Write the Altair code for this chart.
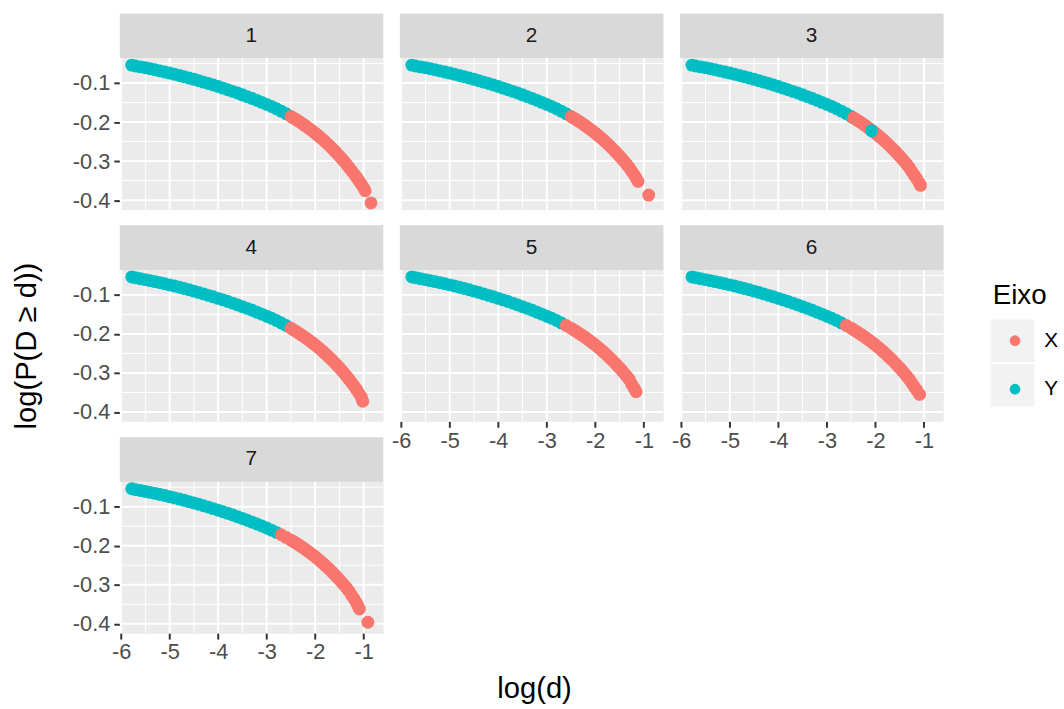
import altair as alt
import pandas as pd

FONTE = "Liberation Sans"
COR_X = "#F8766D"
COR_Y = "#00BFC4"
FUNDO = "#EBEBEB"
FAIXA_COR = "#D9D9D9"

LARGURA = 266
ALTURA = 198
FAIXA = 45  # strip height on top of each panel

X_DOM = [-6.027, -0.602]
Y_DOM = [-0.424, -0.036]

# body of the curve log(P(D >= d)) x log(d), common to all panels
X_CORPO = [-5.78, -5.7, -5.6, -5.5, -5.4, -5.3, -5.2, -5.1, -5.0,
           -4.9, -4.8, -4.7, -4.6, -4.5, -4.4, -4.3, -4.2, -4.1, -4.0,
           -3.9, -3.8, -3.7, -3.6, -3.5, -3.4, -3.3, -3.2, -3.1, -3.0,
           -2.9, -2.8, -2.7, -2.6, -2.5, -2.45, -2.4, -2.35, -2.3, -2.25,
           -2.2, -2.15, -2.1, -2.05, -2.0, -1.95, -1.9, -1.85, -1.8, -1.75,
           -1.7, -1.65, -1.6, -1.55, -1.5, -1.45, -1.4, -1.35, -1.3]
Y_CORPO = [-0.0540, -0.0562, -0.0585, -0.0609, -0.0634, -0.0660, -0.0687, -0.0715, -0.0744,
           -0.0774, -0.0805, -0.0837, -0.0870, -0.0904, -0.0939, -0.0975, -0.1012, -0.1050, -0.1089,
           -0.1129, -0.1170, -0.1212, -0.1256, -0.1301, -0.1347, -0.1395, -0.1444, -0.1494, -0.1546,
           -0.1600, -0.1658, -0.1720, -0.1786, -0.1856, -0.1893, -0.1931, -0.1970, -0.2011, -0.2053,
           -0.2096, -0.2141, -0.2187, -0.2235, -0.2284, -0.2335, -0.2387, -0.2441, -0.2497, -0.2555,
           -0.2614, -0.2676, -0.2739, -0.2805, -0.2872, -0.2942, -0.3014, -0.3089, -0.3166]

# steep end of the curve, panel by panel
X_CAUDA = {
    1: [-1.25, -1.2, -1.15, -1.1, -1.05, -1.0, -0.97, -0.85],
    2: [-1.25, -1.2, -1.16, -1.12, -0.90],
    3: [-1.25, -1.2, -1.15, -1.1, -1.07],
    4: [-1.25, -1.2, -1.15, -1.1, -1.05, -1.02],
    5: [-1.25, -1.2, -1.16],
    6: [-1.25, -1.2, -1.15, -1.09],
    7: [-1.25, -1.2, -1.15, -1.12, -1.09, -0.915],
}
Y_CAUDA = {
    1: [-0.325, -0.333, -0.341, -0.350, -0.359, -0.369, -0.376, -0.407],
    2: [-0.326, -0.335, -0.343, -0.352, -0.387],
    3: [-0.327, -0.336, -0.345, -0.355, -0.362],
    4: [-0.325, -0.333, -0.342, -0.352, -0.362, -0.3725],
    5: [-0.329, -0.339, -0.348],
    6: [-0.326, -0.335, -0.344, -0.355],
    7: [-0.327, -0.336, -0.346, -0.354, -0.362, -0.396],
}

# first log(d) classified as axis X in each panel
CORTE = {1: -2.55, 2: -2.53, 3: -2.47, 4: -2.58, 5: -2.68, 6: -2.6, 7: -2.79}

# isolated points drawn on top
AVULSOS = {3: ([-2.08], [-0.222], ["Y"])}

GRADE_X_MAIOR = [-6, -5, -4, -3, -2, -1]
GRADE_X_MENOR = [-5.5, -4.5, -3.5, -2.5, -1.5]
GRADE_Y_MAIOR = [-0.4, -0.3, -0.2, -0.1]
GRADE_Y_MENOR = [-0.35, -0.25, -0.15, -0.05]

EIXOS = ["X", "Y"]

legenda = alt.Legend(
    title="Eixo", orient="none", legendX=882, legendY=271,
    symbolType="circle", symbolSize=115, symbolStrokeWidth=0,
    symbolOffset=12, labelOffset=19, rowPadding=27, titlePadding=21,
    titleFont=FONTE, titleFontSize=28, titleFontWeight="normal", titleColor="black",
    labelFont=FONTE, labelFontSize=21, labelColor="black",
)


def dados_painel(n):
    xs = X_CORPO + X_CAUDA[n]
    ys = Y_CORPO + Y_CAUDA[n]
    eixo = ["Y" if x < CORTE[n] else "X" for x in xs]
    if n in AVULSOS:
        ax, ay, ae = AVULSOS[n]
        xs = xs + ax
        ys = ys + ay
        eixo = eixo + ae
    return pd.DataFrame({"logd": xs, "logp": ys, "eixo": eixo})


def painel(n):
    mostra_x = n in (5, 6, 7)
    mostra_y = n in (1, 4, 7)

    esc_x = alt.Scale(domain=X_DOM, nice=False, zero=False)
    esc_y = alt.Scale(domain=Y_DOM, nice=False, zero=False, range=[ALTURA, FAIXA])

    comum = dict(grid=False, domain=False, ticks=True, tickColor="#333333",
                 tickWidth=2, tickSize=6, labelFont=FONTE, labelFontSize=22,
                 labelColor="#4D4D4D", labelOverlap=False,
                 labelExpr="toString(datum.value)")
    eixo_x = alt.Axis(values=GRADE_X_MAIOR, labelPadding=3, labelFlush=False,
                      title=None, **comum) if mostra_x else None
    if mostra_y:
        if n == 4:
            eixo_y = alt.Axis(values=GRADE_Y_MAIOR, labelPadding=4,
                              title="log(P(D \u2265 d))", titleFont=FONTE,
                              titleFontSize=29.5, titleFontWeight="normal",
                              titleColor="black", titlePadding=31, **comum)
        else:
            eixo_y = alt.Axis(values=GRADE_Y_MAIOR, labelPadding=4, title=None, **comum)
    else:
        eixo_y = None

    def cx(campo):
        return alt.X(campo, type="quantitative", scale=esc_x, axis=eixo_x)

    def cy(campo):
        return alt.Y(campo, type="quantitative", scale=esc_y, axis=eixo_y)

    def verticais(valores, largura):
        df = pd.DataFrame({"g": valores, "y0": Y_DOM[0], "y1": Y_DOM[1]})
        return alt.Chart(df).mark_rule(color="white", strokeWidth=largura).encode(
            x=cx("g"), y=cy("y0"), y2="y1")

    def horizontais(valores, largura):
        df = pd.DataFrame({"g": valores, "x0": X_DOM[0], "x1": X_DOM[1]})
        return alt.Chart(df).mark_rule(color="white", strokeWidth=largura).encode(
            y=cy("g"), x=cx("x0"), x2="x1")

    pontos = alt.Chart(dados_painel(n)).mark_circle(size=170, opacity=1).encode(
        x=cx("logd"), y=cy("logp"),
        color=alt.Color("eixo:N", scale=alt.Scale(domain=EIXOS, range=[COR_X, COR_Y]),
                        legend=legenda),
    )

    rotulo = pd.DataFrame({"painel": [str(n)]})
    faixa = alt.Chart(rotulo).mark_rect(color=FAIXA_COR).encode(
        x=alt.value(0), x2=alt.value(LARGURA), y=alt.value(0), y2=alt.value(FAIXA))
    texto = alt.Chart(rotulo).mark_text(
        font=FONTE, fontSize=21, color="#1A1A1A", baseline="middle", align="center"
    ).encode(x=alt.value(LARGURA / 2), y=alt.value(FAIXA / 2), text="painel:N")

    camadas = [verticais(GRADE_X_MENOR, 1), verticais(GRADE_X_MAIOR, 2),
               horizontais(GRADE_Y_MENOR, 1), horizontais(GRADE_Y_MAIOR, 2),
               pontos, faixa, texto]

    if n == 6:
        # light key boxes behind the legend symbols
        chaves = pd.DataFrame({"eixo": EIXOS})
        for topo in (95, 140):
            camadas.append(alt.Chart(chaves.head(1)).mark_rect(color="#F2F2F2").encode(
                x=alt.value(314), x2=alt.value(358),
                y=alt.value(topo), y2=alt.value(topo + 43)))

    return alt.layer(*camadas).properties(width=LARGURA, height=ALTURA)


paineis = [painel(n) for n in range(1, 8)]

chart = alt.concat(
    *paineis, columns=3, spacing={"row": 16, "column": 17}, bounds="flush",
    title=alt.TitleParams(text="log(d)", orient="bottom", anchor="middle",
                          font=FONTE, fontSize=29.5, fontWeight="normal",
                          color="black", offset=13, dx=-1),
).properties(
    padding={"left": 12, "top": 10, "right": 5, "bottom": 5},
    background="white",
).configure_view(fill=FUNDO, strokeOpacity=0)

chart.save("out.html", embed_options={"renderer": "svg", "actions": False})
